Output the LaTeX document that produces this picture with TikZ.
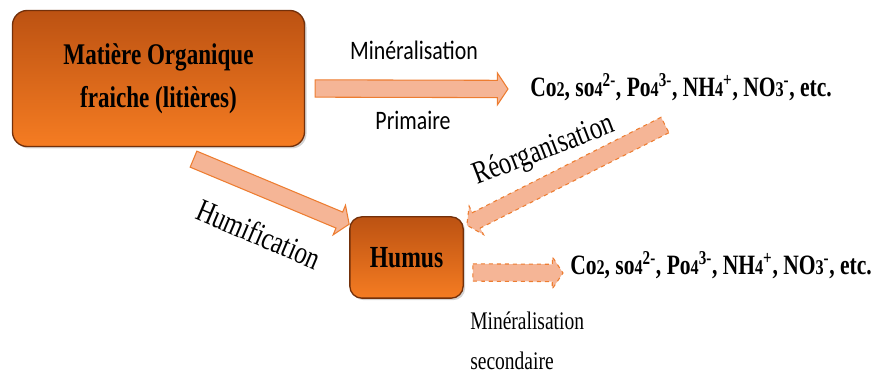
\documentclass[tikz,border=0pt]{standalone}
\usepackage{fontspec}
\setmainfont{Liberation Serif}[FakeStretch=0.77]
\newfontfamily\calibfont{Carlito}[FakeStretch=0.82]
\usetikzlibrary{calc,shadows}

\definecolor{boxtop}{RGB}{188,82,18}
\definecolor{boxbot}{RGB}{245,124,34}
\definecolor{boxline}{RGB}{115,48,10}
\definecolor{arrowfill}{RGB}{245,181,150}
\definecolor{arrowline}{RGB}{237,125,49}

% block arrow from tail to tip
\newcommand{\blockarrow}[3][]{%
  \coordinate (ta) at #2;
  \coordinate (tp) at #3;
  \coordinate (nk) at ($(tp)!8pt!(ta)$);
  \draw[blockarrow,#1] ($(ta)!6.5pt!90:(tp)$) -- ($(nk)!6.5pt!90:(tp)$) -- ($(nk)!12pt!90:(tp)$) -- (tp)
    -- ($(nk)!12pt!-90:(tp)$) -- ($(nk)!6.5pt!-90:(tp)$) -- ($(ta)!6.5pt!-90:(tp)$) -- cycle;
}

\begin{document}
\begin{tikzpicture}[x=0.75pt,y=-0.75pt,
  pool/.style={draw=boxline,line width=1pt,top color=boxtop,bottom color=boxbot,
    drop shadow={opacity=0.35,shadow xshift=1.5pt,shadow yshift=-1.5pt},
    align=center,font=\fontsize{22.5}{32}\selectfont\bfseries},
  ions/.style={inner sep=0pt,anchor=base west,font=\fontsize{21}{24}\selectfont\bfseries},
  blockarrow/.style={draw=arrowline,fill=arrowfill,line width=0.8pt,line join=miter},
  lbl/.style={font=\fontsize{19}{22}\selectfont}]
%\draw[help lines] (0,0) grid[step=50] (876,374);
\useasboundingbox (0,0) rectangle (876,374);

\node[pool,rounded corners=11pt,minimum width=219pt,minimum height=102pt] (mo) at (158.5,78.5) {Matière Organique\\fraiche (litières)};
\node[pool,rounded corners=9pt,minimum width=85pt,minimum height=61pt,font=\fontsize{23}{26}\selectfont\bfseries] (hu) at (406.5,257.5) {Humus};

\node[ions] (co1) at (530,97) {Co\scalebox{0.75}{2}, so\scalebox{0.75}{4}\textsuperscript{2-}, Po\scalebox{0.75}{4}\textsuperscript{3-}, NH\scalebox{0.75}{4}\textsuperscript{+}, NO\scalebox{0.75}{3}\textsuperscript{-}, etc.};
\node[ions] (co2) at (570,275) {Co\scalebox{0.75}{2}, so\scalebox{0.75}{4}\textsuperscript{2-}, Po\scalebox{0.75}{4}\textsuperscript{3-}, NH\scalebox{0.75}{4}\textsuperscript{+}, NO\scalebox{0.75}{3}\textsuperscript{-}, etc.};

\node[lbl,font=\calibfont\fontsize{20}{22}\selectfont] (m1) at (414,50) {Minéralisation};
\node[lbl,font=\calibfont\fontsize{20}{22}\selectfont] (p1) at (413,120) {Primaire};
\node[lbl,rotate=-23,font=\fontsize{24}{26}\selectfont] (hf) at (259,234) {Humification};
\node[lbl,rotate=21,font=\fontsize{24}{26}\selectfont] (ro) at (544,151) {Réorganisation};
\node[lbl,anchor=north west,align=left,inner sep=0pt,font=\fontsize{19}{30}\selectfont] (m2) at (470,312) {Minéralisation\\secondaire};

\blockarrow{($(mo.east)+(10,10)$)}{($(co1.base west)+(-22,-8)$)}
\blockarrow{($(mo.south)+(35,12)$)}{($(hu.north west)+(0,8)$)}
\blockarrow[dashed]{($(co1.base west)+(135,28)$)}{($(hu.north east)+(3,9)$)}
\blockarrow[dashed]{($(hu.east)+(9,15)$)}{($(co2.base west)+(-7,-2)$)}
\end{tikzpicture}
\end{document}
